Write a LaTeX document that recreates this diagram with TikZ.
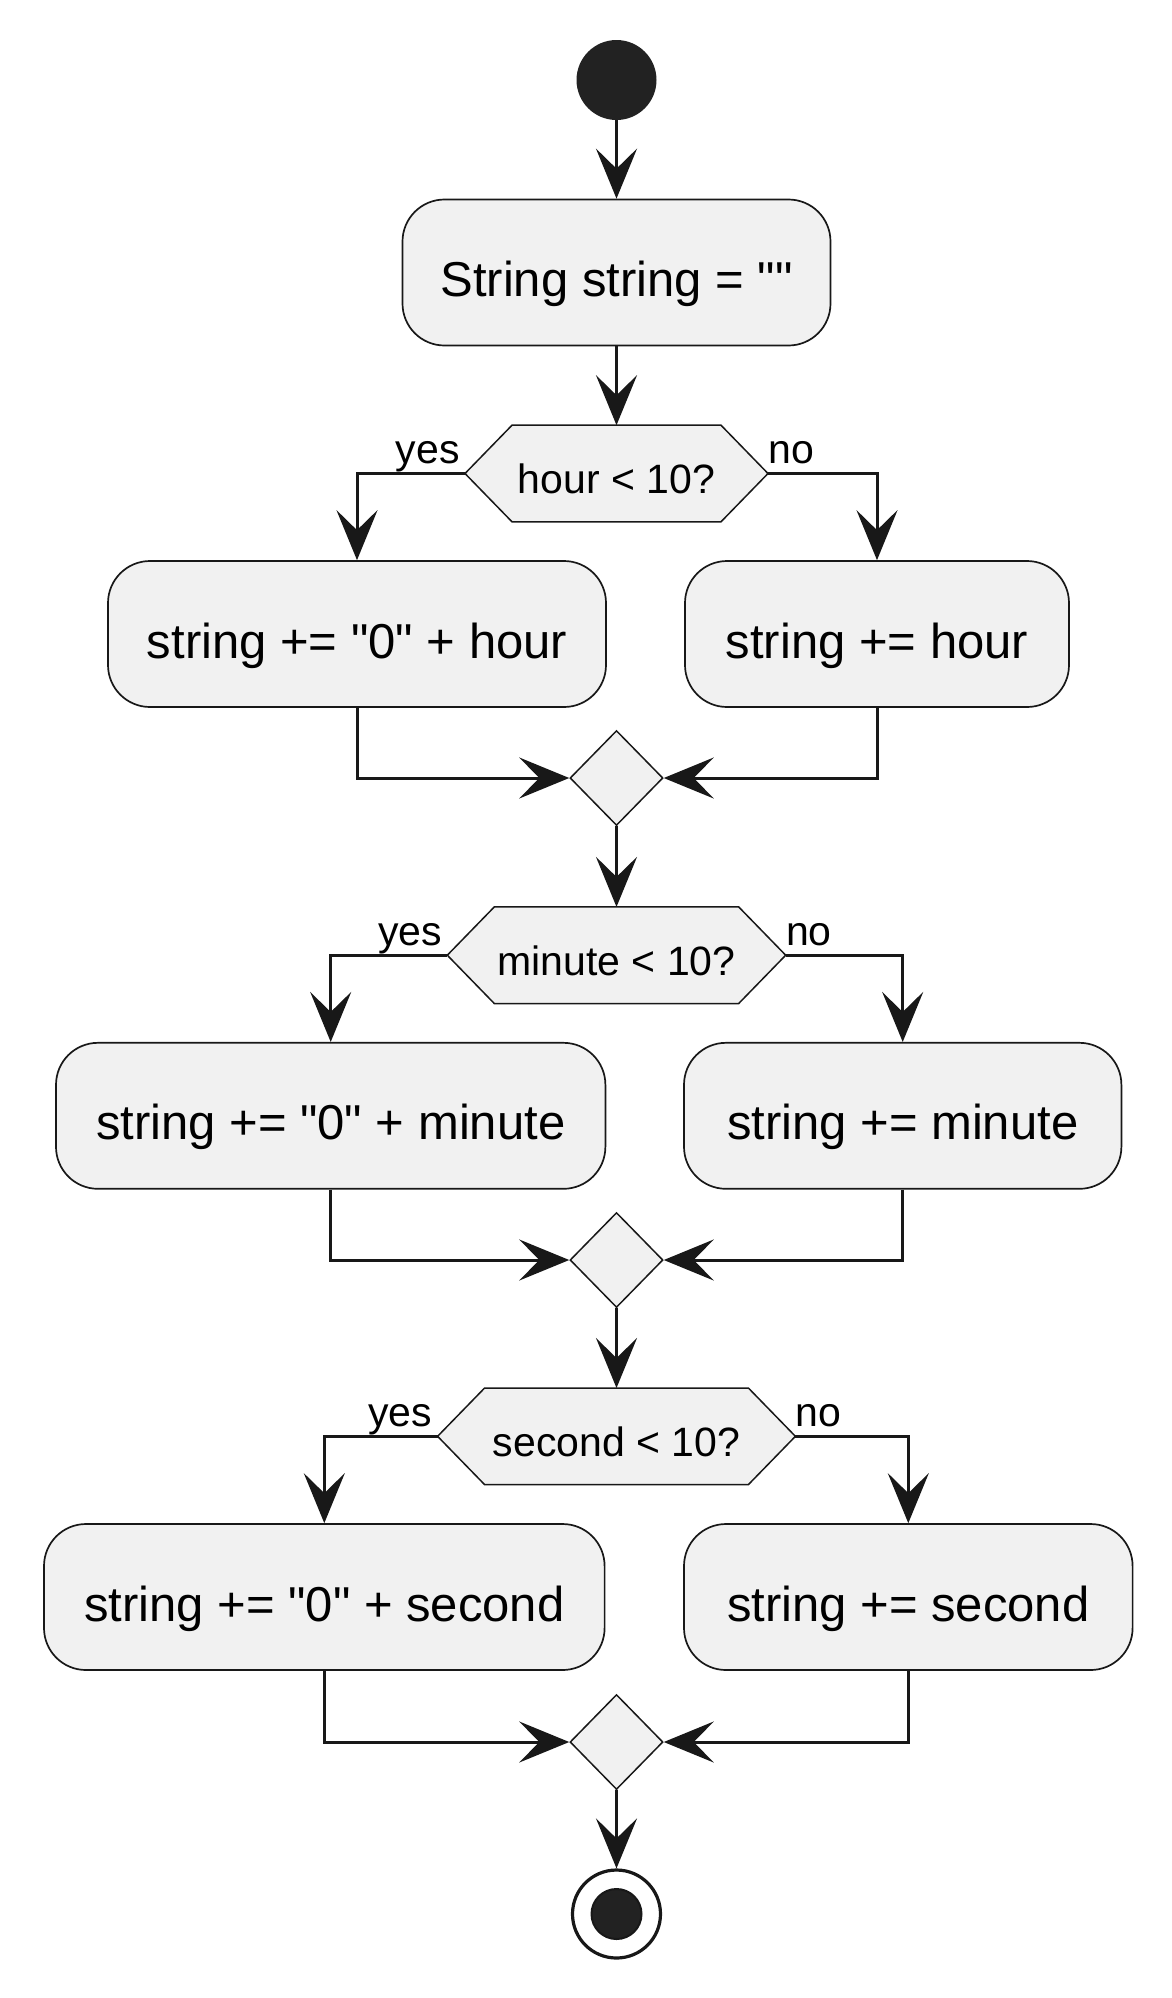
\documentclass[tikz,border=0pt]{standalone}
\usepackage{fontspec}
\setmainfont{Liberation Sans}[Ligatures=TeXOff]
\usetikzlibrary{arrows.meta,shapes.geometric,calc,backgrounds}
\definecolor{fillc}{HTML}{F1F1F1}
\definecolor{linec}{HTML}{181818}
\definecolor{dotc}{HTML}{222222}
\newcommand{\boxfont}{\fontsize{24.5}{29}\selectfont}
\newcommand{\smfont}{\fontsize{20.5}{24}\selectfont}
\newcommand{\hexpath}[1]{\draw[hexline] (#1.west) -- ($(#1.north west)+(47,0)$) -- ($(#1.north east)+(-47,0)$) -- (#1.east) -- ($(#1.south east)+(-47,0)$) -- ($(#1.south west)+(47,0)$) -- cycle;}
\begin{document}
\begin{tikzpicture}[x=0.5pt,y=-0.5pt,
  actbox/.style={draw=linec, fill=fillc, line width=0.85pt, rounded corners=21pt,
    font=\boxfont, text height=24pt, text depth=0pt, minimum height=73pt, inner sep=0pt},
  hexnode/.style={font=\smfont, text height=19.8pt, text depth=0pt, minimum height=48.3pt,
    inner sep=0pt, outer sep=0pt},
  hexline/.style={draw=linec, fill=fillc, line width=0.75pt, line join=miter},
  merge/.style={diamond, aspect=1, draw=linec, fill=fillc, line width=0.75pt,
    minimum width=46.5pt, minimum height=47.5pt, inner sep=0pt},
  lbl/.style={font=\smfont, inner sep=0pt},
  flow/.style={draw=linec, line width=1.5pt, -{Stealth[length=25pt,width=20.5pt,inset=10pt]}},
  plain/.style={draw=linec, line width=1.5pt}]
\useasboundingbox (0,0) rectangle (1172,1998);

% start
\node[circle, fill=dotc, minimum size=40pt, inner sep=0pt] (start) at (616.5,80) {};
\node[actbox, minimum width=214pt] (b0) at (616.5,272.5) {String string = ""};

% row 1
\node[hexnode, minimum width=151.5pt] (h1) at (616.5,473.5) {hour < 10?};
\node[actbox, minimum width=249pt] (b1l) at (357,634) {string += "0" + hour};
\node[actbox, minimum width=192pt] (b1r) at (877,634) {string += hour};
\node[merge] (m1) at (616.5,778) {};
\node[lbl, anchor=base east] (y1) at ($(h1.west)+(-5,-10)$) {yes};
\node[lbl, anchor=base west] (n1) at ($(h1.east)+(0,-10)$) {no};

% row 2
\node[hexnode, minimum width=169.2pt] (h2) at (616.5,955.2) {minute < 10?};
\node[actbox, minimum width=274.7pt] (b2l) at (330.7,1115.8) {string += "0" + minute};
\node[actbox, minimum width=218.7pt] (b2r) at (902.7,1115.8) {string += minute};
\node[merge] (m2) at (616.5,1260) {};
\node[lbl, anchor=base east] (y2) at ($(h2.west)+(-5,-10)$) {yes};
\node[lbl, anchor=base west] (n2) at ($(h2.east)+(0,-10)$) {no};

% row 3
\node[hexnode, minimum width=178.9pt] (h3) at (616.5,1436.3) {second < 10?};
\node[actbox, minimum width=280.3pt] (b3l) at (324.3,1597) {string += "0" + second};
\node[actbox, minimum width=224.3pt] (b3r) at (908.3,1597) {string += second};
\node[merge] (m3) at (616.5,1742) {};
\node[lbl, anchor=base east] (y3) at ($(h3.west)+(-5,-10)$) {yes};
\node[lbl, anchor=base west] (n3) at ($(h3.east)+(0,-10)$) {no};

% end
\node[circle, draw=linec, line width=1.6pt, fill=white, minimum size=44pt, inner sep=0pt] (stop) at (616.5,1914) {};
\node[circle, fill=dotc, draw=linec, line width=1pt, minimum size=25pt, inner sep=0pt] (stopin) at (stop.center) {};

\begin{scope}[on background layer]
\hexpath{h1}
\hexpath{h2}
\hexpath{h3}
\end{scope}

% connectors
\draw[flow] (start) -- (b0);
\draw[flow] (b0) -- (h1.north);
\draw[flow] (h1.west) -| (b1l.north);
\draw[flow] (h1.east) -| (b1r.north);
\draw[flow] (b1l.south) |- (m1.west);
\draw[flow] (b1r.south) |- (m1.east);
\draw[flow] (m1.south) -- (h2.north);
\draw[flow] (h2.west) -| (b2l.north);
\draw[flow] (h2.east) -| (b2r.north);
\draw[flow] (b2l.south) |- (m2.west);
\draw[flow] (b2r.south) |- (m2.east);
\draw[flow] (m2.south) -- (h3.north);
\draw[flow] (h3.west) -| (b3l.north);
\draw[flow] (h3.east) -| (b3r.north);
\draw[flow] (b3l.south) |- (m3.west);
\draw[flow] (b3r.south) |- (m3.east);
\draw[flow] (m3.south) -- (stop.north);
\end{tikzpicture}
\end{document}
